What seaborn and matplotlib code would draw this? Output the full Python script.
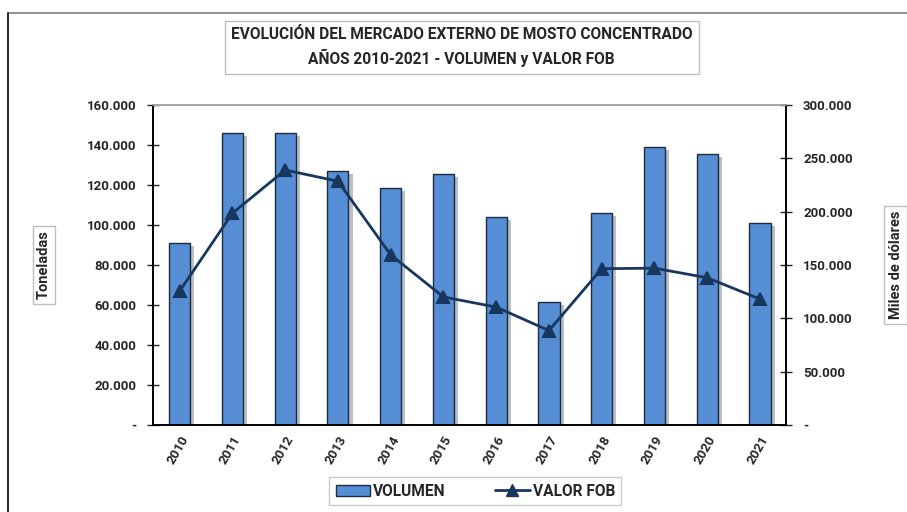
import matplotlib
matplotlib.use('Agg')
import matplotlib.pyplot as plt
import matplotlib.patheffects as pe
from matplotlib.lines import Line2D
from matplotlib.ticker import FuncFormatter, FixedLocator
import seaborn as sns
import pandas as pd

# datos
anios = ['2010', '2011', '2012', '2013', '2014', '2015',
         '2016', '2017', '2018', '2019', '2020', '2021']
volumen = [91000, 146000, 146000, 127000, 118500, 125500,
           104000, 61500, 106000, 139000, 135500, 101000]
valor_fob = [125500, 198500, 239000, 228500, 159500, 120000,
             110500, 88500, 146500, 147000, 138000, 118000]

df = pd.DataFrame({'anio': anios, 'volumen': volumen, 'valor_fob': valor_fob})

sns.set_style('white')
plt.rcParams['font.family'] = ['Roboto', 'DejaVu Sans']
plt.rcParams['font.weight'] = 'bold'

fig = plt.figure(figsize=(9.07, 5.12), dpi=100)
ax = fig.add_axes([0.169, 0.170, 0.698, 0.625])

bar_col = '#558ED5'
line_col = '#17375E'

sns.barplot(data=df, x='anio', y='volumen', ax=ax, color=bar_col, width=0.4,
            edgecolor='#1F2A3A', linewidth=1.0, saturation=1)
for p in ax.patches:
    p.set_path_effects([pe.SimplePatchShadow(offset=(3, -2), alpha=0.3), pe.Normal()])

ax2 = ax.twinx()
sns.pointplot(data=df, x='anio', y='valor_fob', ax=ax2, color=line_col,
              markers='^', markersize=8, linewidth=2)

def miles(v, pos):
    if abs(v) < 1e-6:
        return '-'
    return f'{int(v):,}'.replace(',', '.')

ax.set_ylim(0, 160000)
ax.set_yticks(range(0, 160001, 20000))
ax2.set_ylim(0, 300000)
ax2.set_yticks(range(0, 300001, 50000))
ax.yaxis.set_major_formatter(FuncFormatter(miles))
ax2.yaxis.set_major_formatter(FuncFormatter(miles))
ax.set_xlim(-0.5, len(anios) - 0.5)

ax.set_xticks(range(len(anios)))
ax.set_xticklabels(anios, rotation=60, ha='right', rotation_mode='anchor',
                   fontsize=9.5, fontweight='bold')
ax.xaxis.set_minor_locator(FixedLocator([i - 0.5 for i in range(len(anios) + 1)]))
ax.tick_params(axis='x', which='major', length=0, pad=6)
ax.tick_params(axis='x', which='minor', length=8, direction='inout', width=1)
ax.tick_params(axis='y', length=8, direction='inout', width=1, labelsize=9.5, pad=8)
ax2.tick_params(axis='y', length=8, direction='inout', width=1, labelsize=9.5, pad=8)
for lab in ax.get_yticklabels() + ax2.get_yticklabels():
    lab.set_fontweight('bold')

for a in (ax, ax2):
    a.spines['top'].set_color('#A6A6A6')
    a.spines['top'].set_linewidth(1.2)
    for s in ('left', 'right', 'bottom'):
        a.spines[s].set_color('black')
        a.spines[s].set_linewidth(1.2)

box = dict(boxstyle='square,pad=0.3', fc='white', ec='#BFBFBF', lw=1)
ax.set_xlabel('')
ax.set_ylabel('Toneladas', fontsize=10.5, fontweight='bold', bbox=box, labelpad=26)
ax2.set_ylabel('Miles de dólares', fontsize=10.5, fontweight='bold', bbox=box, labelpad=26)

fig.text(0.509, 0.908, 'EVOLUCIÓN DEL MERCADO EXTERNO DE MOSTO CONCENTRADO\nAÑOS 2010-2021 - VOLUMEN y VALOR FOB',
         ha='center', va='center', fontsize=11.2, fontweight='bold', linespacing=1.5,
         bbox=dict(boxstyle='square,pad=0.4', fc='white', ec='#BFBFBF', lw=1))

handles = [plt.Rectangle((0, 0), 1, 1, fc=bar_col, ec='#1F2A3A', lw=1),
           Line2D([0], [0], color=line_col, marker='^', markersize=8, lw=2)]
leg = fig.legend(handles, ['VOLUMEN', 'VALOR FOB'], loc='center', bbox_to_anchor=(0.524, 0.041),
                 ncol=2, frameon=True, fancybox=False, fontsize=11.2, handlelength=2.2,
                 handletextpad=0.2, columnspacing=3.2, borderpad=0.4)
leg.get_frame().set_edgecolor('#BFBFBF')
for t in leg.get_texts():
    t.set_fontweight('bold')

# marco exterior del gráfico
fig.add_artist(Line2D([0.009, 1.0], [0.975, 0.975], color='#7F7F7F', lw=1.2, transform=fig.transFigure))
fig.add_artist(Line2D([0.009, 0.009], [0.0, 0.975], color='black', lw=1.2, transform=fig.transFigure))

fig.savefig('out.png', dpi=100)
